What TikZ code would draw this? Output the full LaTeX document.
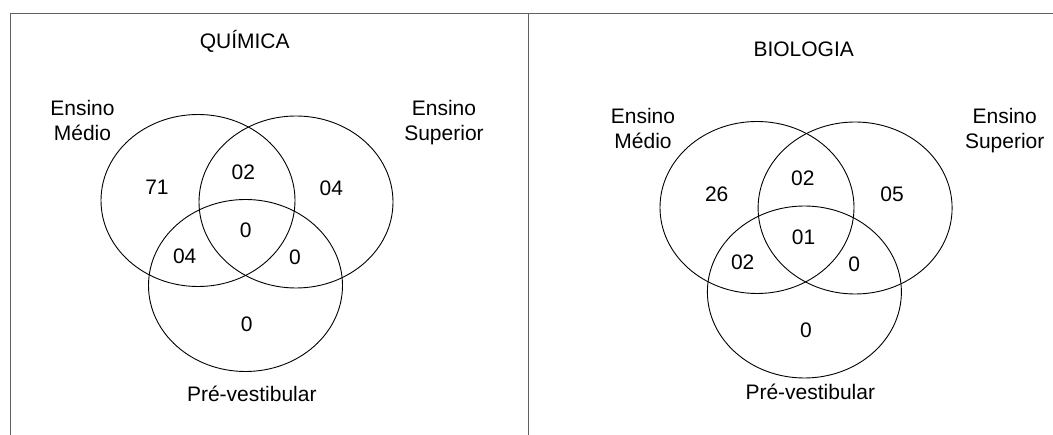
\documentclass[tikz,border=0pt]{standalone}
\usepackage{fontspec}
\setmainfont{Liberation Sans}
\definecolor{framegray}{RGB}{96, 96, 96}
\tikzset{
  venn/.style={black, line width=0.9pt},
  frame/.style={framegray, line width=1.3pt},
  lbl/.style={anchor=base, inner sep=0pt, align=center, font=\fontsize{21}{25}\selectfont},
}

\begin{document}
\begin{tikzpicture}[x=1pt, y=-1pt]
            \useasboundingbox (0,0) rectangle (1053,435);
            % Frame
            \draw[frame] ( 10.4, 435.0) -- ( 10.4, 13.3) -- (1053.0, 13.3);
            \draw[frame] (528.7, 435.0) -- (528.7, 13.3);
            % QUIMICA sets
            \draw[venn] (198.0, 200.5) ellipse (97pt and 86pt);
            \draw[venn] (296.0, 202.0) ellipse (97pt and 86pt);
            \draw[venn] (245.5, 285.5) ellipse (97pt and 86pt);
            \node[lbl] (quim)  at (244.7,  48.5) {QUÍMICA};
            \node[lbl] (medQ)  at ( 82.5, 141.0) {Ensino\\Médio};
            \node[lbl] (supQ)  at (444.0, 141.0) {Ensino\\Superior};
            \node[lbl] (preQ)  at (251.8, 401.7) {Pré-vestibular};
            \node[lbl] (mQ)    at (157.0, 195.0) {71};
            \node[lbl] (msQ)   at (243.4, 180.0) {02};
            \node[lbl] (sQ)    at (331.3, 196.0) {04};
            \node[lbl] (mspQ)  at (245.7, 238.0) {0};
            \node[lbl] (mpQ)   at (184.7, 263.5) {04};
            \node[lbl] (spQ)   at (295.0, 265.0) {0};
            \node[lbl] (pQ)    at (246.7, 331.7) {0};
            % BIOLOGIA sets
            \draw[venn] (757.0, 207.5) ellipse (97pt and 86pt);
            \draw[venn] (855.1, 208.0) ellipse (97pt and 86pt);
            \draw[venn] (804.4, 292.0) ellipse (97pt and 86pt);
            \node[lbl] (biol)  at (803.7,  56.7) {BIOLOGIA};
            \node[lbl] (medB)  at (643.0, 148.3) {Ensino\\Médio};
            \node[lbl] (supB)  at (1004.7,148.3) {Ensino\\Superior};
            \node[lbl] (preB)  at (810.3, 399.3) {Pré-vestibular};
            \node[lbl] (mB)    at (716.7, 201.7) {26};
            \node[lbl] (msB)   at (802.9, 185.7) {02};
            \node[lbl] (sB)    at (892.1, 201.7) {05};
            \node[lbl] (mspB)  at (803.6, 244.3) {01};
            \node[lbl] (mpB)   at (742.7, 269.3) {02};
            \node[lbl] (spB)   at (854.3, 271.7) {0};
            \node[lbl] (pB)    at (805.9, 337.3) {0};
\end{tikzpicture}
\end{document}
